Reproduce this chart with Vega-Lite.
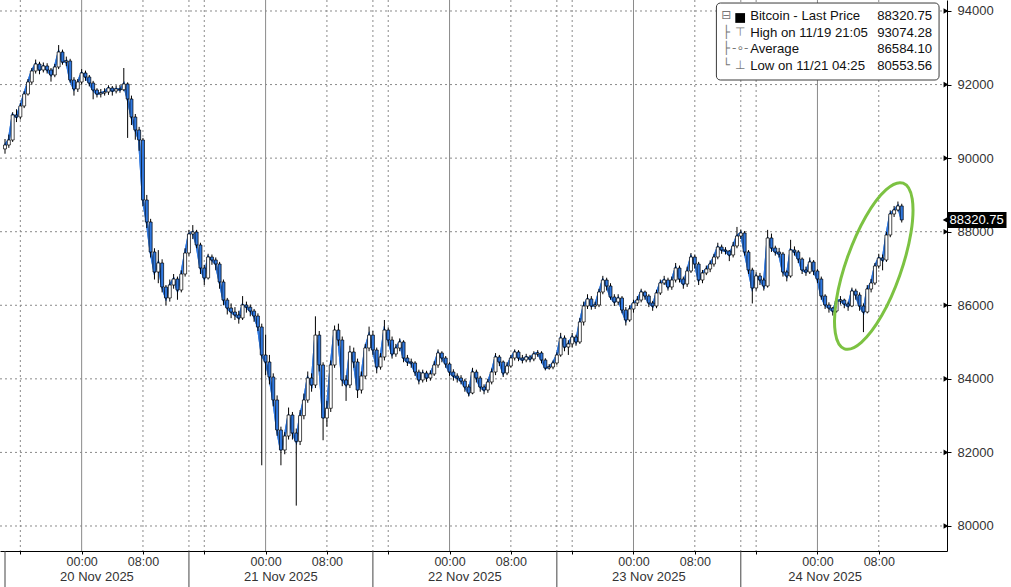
{
"$schema":"https://vega.github.io/schema/vega-lite/v6.json",
"width":947,"height":551,
"autosize":{"type":"none"},
"padding":{"left":0,"top":0,"right":64,"bottom":36},
"background":"#ffffff",
"config":{"font":"Liberation Sans","view":{"stroke":null},"axis":{"labelFont":"Liberation Sans","labelFontSize":13,"labelColor":"#333333","title":null}},
"datasets":{
"vgrid":[{"t":"2025-11-20T00:00Z","k":"d"},{"t":"2025-11-21T00:00Z","k":"d"},{"t":"2025-11-22T00:00Z","k":"d"},{"t":"2025-11-23T00:00Z","k":"d"},{"t":"2025-11-24T00:00Z","k":"d"},
{"t":"2025-11-19T16:00Z","k":"h"},{"t":"2025-11-20T08:00Z","k":"h"},{"t":"2025-11-20T16:00Z","k":"h"},{"t":"2025-11-21T08:00Z","k":"h"},{"t":"2025-11-21T16:00Z","k":"h"},{"t":"2025-11-22T08:00Z","k":"h"},{"t":"2025-11-22T16:00Z","k":"h"},{"t":"2025-11-23T08:00Z","k":"h"},{"t":"2025-11-23T16:00Z","k":"h"},{"t":"2025-11-24T08:00Z","k":"h"},
{"t":"2025-11-20T14:00Z","k":"h"},{"t":"2025-11-21T14:00Z","k":"h"},{"t":"2025-11-22T14:00Z","k":"h"},{"t":"2025-11-23T14:00Z","k":"h"}],
"seps":[{"t":"2025-11-19T14:00Z"},{"t":"2025-11-20T14:00Z"},{"t":"2025-11-21T14:00Z"},{"t":"2025-11-22T14:00Z"},{"t":"2025-11-23T14:00Z"}],
"sessions":[{"t":"2025-11-20T02:00Z","label":"20 Nov 2025"},{"t":"2025-11-21T02:00Z","label":"21 Nov 2025"},{"t":"2025-11-22T02:00Z","label":"22 Nov 2025"},{"t":"2025-11-23T02:00Z","label":"23 Nov 2025"},{"t":"2025-11-24T01:00Z","label":"24 Nov 2025"}],
"levels":[{"v":80000},{"v":82000},{"v":84000},{"v":86000},{"v":88000},{"v":90000},{"v":92000},{"v":94000}],
"ellipse":[
{"i":1,"t":"2025-11-24T11:11Z","p":89319},{"i":2,"t":"2025-11-24T12:22Z","p":88889},{"i":3,"t":"2025-11-24T12:12Z","p":87970},{"i":4,"t":"2025-11-24T10:44Z","p":86812},{"i":5,"t":"2025-11-24T08:23Z","p":85719},{"i":6,"t":"2025-11-24T05:44Z","p":84991},{"i":7,"t":"2025-11-24T03:31Z","p":84817},{"i":8,"t":"2025-11-24T02:20Z","p":85246},{"i":9,"t":"2025-11-24T02:29Z","p":86165},{"i":10,"t":"2025-11-24T03:57Z","p":87323},{"i":11,"t":"2025-11-24T06:19Z","p":88416},{"i":12,"t":"2025-11-24T08:58Z","p":89145}],
"btc":[
{"t":"2025-11-19T14:00Z","o":90250,"h":90520,"l":90120,"c":90357},
{"t":"2025-11-19T14:30Z","o":90357,"h":90640,"l":90280,"c":90493},
{"t":"2025-11-19T15:00Z","o":90493,"h":91250,"l":90440,"c":91173},
{"t":"2025-11-19T15:30Z","o":91173,"h":91330,"l":90980,"c":91118},
{"t":"2025-11-19T16:00Z","o":91118,"h":91500,"l":91050,"c":91417},
{"t":"2025-11-19T16:30Z","o":91417,"h":91820,"l":91360,"c":91744},
{"t":"2025-11-19T17:00Z","o":91744,"h":92150,"l":91700,"c":92070},
{"t":"2025-11-19T17:30Z","o":92070,"h":92450,"l":92000,"c":92369},
{"t":"2025-11-19T18:00Z","o":92369,"h":92680,"l":92300,"c":92559},
{"t":"2025-11-19T18:30Z","o":92559,"h":92620,"l":92280,"c":92396},
{"t":"2025-11-19T19:00Z","o":92396,"h":92600,"l":92330,"c":92505},
{"t":"2025-11-19T19:30Z","o":92505,"h":92580,"l":92300,"c":92396},
{"t":"2025-11-19T20:00Z","o":92396,"h":92450,"l":92080,"c":92260},
{"t":"2025-11-19T20:30Z","o":92260,"h":92560,"l":92200,"c":92478},
{"t":"2025-11-19T21:00Z","o":92478,"h":93074.28,"l":92420,"c":92885},
{"t":"2025-11-19T21:30Z","o":92885,"h":92950,"l":92540,"c":92613},
{"t":"2025-11-19T22:00Z","o":92613,"h":92760,"l":92500,"c":92641},
{"t":"2025-11-19T22:30Z","o":92641,"h":92700,"l":92050,"c":92124},
{"t":"2025-11-19T23:00Z","o":92124,"h":92200,"l":91700,"c":91880},
{"t":"2025-11-19T23:30Z","o":91880,"h":92150,"l":91800,"c":92070},
{"t":"2025-11-20T00:00Z","o":92070,"h":92420,"l":92000,"c":92315},
{"t":"2025-11-20T00:30Z","o":92315,"h":92380,"l":92100,"c":92206},
{"t":"2025-11-20T01:00Z","o":92206,"h":92260,"l":91950,"c":92043},
{"t":"2025-11-20T01:30Z","o":92043,"h":92100,"l":91600,"c":91852},
{"t":"2025-11-20T02:00Z","o":91852,"h":91900,"l":91650,"c":91744},
{"t":"2025-11-20T02:30Z","o":91744,"h":91880,"l":91650,"c":91771},
{"t":"2025-11-20T03:00Z","o":91771,"h":91900,"l":91700,"c":91798},
{"t":"2025-11-20T03:30Z","o":91798,"h":91980,"l":91720,"c":91907},
{"t":"2025-11-20T04:00Z","o":91907,"h":91960,"l":91700,"c":91825},
{"t":"2025-11-20T04:30Z","o":91825,"h":91980,"l":91760,"c":91880},
{"t":"2025-11-20T05:00Z","o":91880,"h":91990,"l":91780,"c":91860},
{"t":"2025-11-20T05:30Z","o":91860,"h":92450,"l":91820,"c":92016},
{"t":"2025-11-20T06:00Z","o":92016,"h":92060,"l":90550,"c":91608},
{"t":"2025-11-20T06:30Z","o":91608,"h":91700,"l":90900,"c":91118},
{"t":"2025-11-20T07:00Z","o":91118,"h":91200,"l":90500,"c":90765},
{"t":"2025-11-20T07:30Z","o":90765,"h":90850,"l":90200,"c":90493},
{"t":"2025-11-20T08:00Z","o":90493,"h":90550,"l":88700,"c":88862},
{"t":"2025-11-20T08:30Z","o":88862,"h":89000,"l":88100,"c":88264},
{"t":"2025-11-20T09:00Z","o":88264,"h":88350,"l":87300,"c":87448},
{"t":"2025-11-20T09:30Z","o":87448,"h":87550,"l":86700,"c":86905},
{"t":"2025-11-20T10:00Z","o":86905,"h":87500,"l":86600,"c":87150},
{"t":"2025-11-20T10:30Z","o":87150,"h":87250,"l":86350,"c":86497},
{"t":"2025-11-20T11:00Z","o":86497,"h":86550,"l":86000,"c":86198},
{"t":"2025-11-20T11:30Z","o":86198,"h":86700,"l":86100,"c":86551},
{"t":"2025-11-20T12:00Z","o":86551,"h":86850,"l":86450,"c":86714},
{"t":"2025-11-20T12:30Z","o":86714,"h":86780,"l":86150,"c":86415},
{"t":"2025-11-20T13:00Z","o":86415,"h":86950,"l":86350,"c":86850},
{"t":"2025-11-20T13:30Z","o":86850,"h":87550,"l":86780,"c":87421},
{"t":"2025-11-20T14:00Z","o":87421,"h":88050,"l":87350,"c":87938},
{"t":"2025-11-20T14:30Z","o":87938,"h":88180,"l":87800,"c":87992},
{"t":"2025-11-20T15:00Z","o":87992,"h":88050,"l":87550,"c":87639},
{"t":"2025-11-20T15:30Z","o":87639,"h":87700,"l":86850,"c":87013},
{"t":"2025-11-20T16:00Z","o":87013,"h":87100,"l":86550,"c":86742},
{"t":"2025-11-20T16:30Z","o":86742,"h":87400,"l":86700,"c":87312},
{"t":"2025-11-20T17:00Z","o":87312,"h":87380,"l":87100,"c":87231},
{"t":"2025-11-20T17:30Z","o":87231,"h":87300,"l":86950,"c":87122},
{"t":"2025-11-20T18:00Z","o":87122,"h":87180,"l":86450,"c":86633},
{"t":"2025-11-20T18:30Z","o":86633,"h":86700,"l":86000,"c":86143},
{"t":"2025-11-20T19:00Z","o":86143,"h":86200,"l":85750,"c":85926},
{"t":"2025-11-20T19:30Z","o":85926,"h":86050,"l":85650,"c":85817},
{"t":"2025-11-20T20:00Z","o":85817,"h":85950,"l":85600,"c":85736},
{"t":"2025-11-20T20:30Z","o":85736,"h":85850,"l":85500,"c":85654},
{"t":"2025-11-20T21:00Z","o":85654,"h":86250,"l":85600,"c":86008},
{"t":"2025-11-20T21:30Z","o":86008,"h":86100,"l":85800,"c":85950},
{"t":"2025-11-20T22:00Z","o":85950,"h":86020,"l":85700,"c":85844},
{"t":"2025-11-20T22:30Z","o":85844,"h":85900,"l":85550,"c":85708},
{"t":"2025-11-20T23:00Z","o":85708,"h":85780,"l":85300,"c":85410},
{"t":"2025-11-20T23:30Z","o":85410,"h":85500,"l":81650,"c":84648},
{"t":"2025-11-21T00:00Z","o":84648,"h":85200,"l":84100,"c":84458},
{"t":"2025-11-21T00:30Z","o":84458,"h":84650,"l":83850,"c":84050},
{"t":"2025-11-21T01:00Z","o":84050,"h":84150,"l":83250,"c":83425},
{"t":"2025-11-21T01:30Z","o":83425,"h":83550,"l":82450,"c":82610},
{"t":"2025-11-21T02:00Z","o":82610,"h":82700,"l":81650,"c":82066},
{"t":"2025-11-21T02:30Z","o":82066,"h":82550,"l":81950,"c":82446},
{"t":"2025-11-21T03:00Z","o":82446,"h":83220,"l":82350,"c":83017},
{"t":"2025-11-21T03:30Z","o":83017,"h":83100,"l":82350,"c":82528},
{"t":"2025-11-21T04:00Z","o":82528,"h":82650,"l":80553.56,"c":82300},
{"t":"2025-11-21T04:30Z","o":82300,"h":83150,"l":82200,"c":83000},
{"t":"2025-11-21T05:00Z","o":83000,"h":83600,"l":82900,"c":83425},
{"t":"2025-11-21T05:30Z","o":83425,"h":84200,"l":83350,"c":84023},
{"t":"2025-11-21T06:00Z","o":84023,"h":84150,"l":83650,"c":83833},
{"t":"2025-11-21T06:30Z","o":83833,"h":85700,"l":83750,"c":85190},
{"t":"2025-11-21T07:00Z","o":85190,"h":85300,"l":84200,"c":84377},
{"t":"2025-11-21T07:30Z","o":84377,"h":84450,"l":82330,"c":82936},
{"t":"2025-11-21T08:00Z","o":82936,"h":83400,"l":82700,"c":83200},
{"t":"2025-11-21T08:30Z","o":83200,"h":84500,"l":83100,"c":84377},
{"t":"2025-11-21T09:00Z","o":84377,"h":85450,"l":84300,"c":85327},
{"t":"2025-11-21T09:30Z","o":85327,"h":85500,"l":84900,"c":85056},
{"t":"2025-11-21T10:00Z","o":85056,"h":85150,"l":83800,"c":83969},
{"t":"2025-11-21T10:30Z","o":83969,"h":84100,"l":83400,"c":83833},
{"t":"2025-11-21T11:00Z","o":83833,"h":84900,"l":83750,"c":84730},
{"t":"2025-11-21T11:30Z","o":84730,"h":84850,"l":84300,"c":84458},
{"t":"2025-11-21T12:00Z","o":84458,"h":84550,"l":83480,"c":83697},
{"t":"2025-11-21T12:30Z","o":83697,"h":84200,"l":83600,"c":84077},
{"t":"2025-11-21T13:00Z","o":84077,"h":84950,"l":84000,"c":84839},
{"t":"2025-11-21T13:30Z","o":84839,"h":85420,"l":84750,"c":85190},
{"t":"2025-11-21T14:00Z","o":85190,"h":85300,"l":84650,"c":84784},
{"t":"2025-11-21T14:30Z","o":84784,"h":84850,"l":84150,"c":84322},
{"t":"2025-11-21T15:00Z","o":84322,"h":84700,"l":84250,"c":84594},
{"t":"2025-11-21T15:30Z","o":84594,"h":85600,"l":84500,"c":85327},
{"t":"2025-11-21T16:00Z","o":85327,"h":85400,"l":84900,"c":85056},
{"t":"2025-11-21T16:30Z","o":85056,"h":85150,"l":84550,"c":84676},
{"t":"2025-11-21T17:00Z","o":84676,"h":84950,"l":84600,"c":84839},
{"t":"2025-11-21T17:30Z","o":84839,"h":85100,"l":84750,"c":85002},
{"t":"2025-11-21T18:00Z","o":85002,"h":85050,"l":84450,"c":84567},
{"t":"2025-11-21T18:30Z","o":84567,"h":84650,"l":84350,"c":84458},
{"t":"2025-11-21T19:00Z","o":84458,"h":84550,"l":84300,"c":84431},
{"t":"2025-11-21T19:30Z","o":84431,"h":84480,"l":84080,"c":84186},
{"t":"2025-11-21T20:00Z","o":84186,"h":84250,"l":83850,"c":83969},
{"t":"2025-11-21T20:30Z","o":83969,"h":84250,"l":83900,"c":84159},
{"t":"2025-11-21T21:00Z","o":84159,"h":84220,"l":83920,"c":84023},
{"t":"2025-11-21T21:30Z","o":84023,"h":84230,"l":83950,"c":84132},
{"t":"2025-11-21T22:00Z","o":84132,"h":84480,"l":84080,"c":84377},
{"t":"2025-11-21T22:30Z","o":84377,"h":84800,"l":84300,"c":84703},
{"t":"2025-11-21T23:00Z","o":84703,"h":84750,"l":84450,"c":84567},
{"t":"2025-11-21T23:30Z","o":84567,"h":84620,"l":84300,"c":84404},
{"t":"2025-11-22T00:00Z","o":84404,"h":84450,"l":84080,"c":84186},
{"t":"2025-11-22T00:30Z","o":84186,"h":84260,"l":83950,"c":84077},
{"t":"2025-11-22T01:00Z","o":84077,"h":84150,"l":83900,"c":84023},
{"t":"2025-11-22T01:30Z","o":84023,"h":84100,"l":83850,"c":83941},
{"t":"2025-11-22T02:00Z","o":83941,"h":84000,"l":83650,"c":83778},
{"t":"2025-11-22T02:30Z","o":83778,"h":83850,"l":83520,"c":83615},
{"t":"2025-11-22T03:00Z","o":83615,"h":84300,"l":83580,"c":84186},
{"t":"2025-11-22T03:30Z","o":84186,"h":84250,"l":83900,"c":84023},
{"t":"2025-11-22T04:00Z","o":84023,"h":84080,"l":83650,"c":83778},
{"t":"2025-11-22T04:30Z","o":83778,"h":83850,"l":83580,"c":83697},
{"t":"2025-11-22T05:00Z","o":83697,"h":84000,"l":83620,"c":83914},
{"t":"2025-11-22T05:30Z","o":83914,"h":84280,"l":83850,"c":84186},
{"t":"2025-11-22T06:00Z","o":84186,"h":84700,"l":84100,"c":84594},
{"t":"2025-11-22T06:30Z","o":84594,"h":84650,"l":84350,"c":84458},
{"t":"2025-11-22T07:00Z","o":84458,"h":84500,"l":84050,"c":84159},
{"t":"2025-11-22T07:30Z","o":84159,"h":84450,"l":84100,"c":84349},
{"t":"2025-11-22T08:00Z","o":84349,"h":84650,"l":84300,"c":84567},
{"t":"2025-11-22T08:30Z","o":84567,"h":84800,"l":84500,"c":84730},
{"t":"2025-11-22T09:00Z","o":84730,"h":84780,"l":84480,"c":84567},
{"t":"2025-11-22T09:30Z","o":84567,"h":84650,"l":84420,"c":84513},
{"t":"2025-11-22T10:00Z","o":84513,"h":84680,"l":84450,"c":84594},
{"t":"2025-11-22T10:30Z","o":84594,"h":84650,"l":84450,"c":84540},
{"t":"2025-11-22T11:00Z","o":84540,"h":84750,"l":84480,"c":84676},
{"t":"2025-11-22T11:30Z","o":84676,"h":84780,"l":84600,"c":84703},
{"t":"2025-11-22T12:00Z","o":84703,"h":84750,"l":84420,"c":84513},
{"t":"2025-11-22T12:30Z","o":84513,"h":84560,"l":84230,"c":84295},
{"t":"2025-11-22T13:00Z","o":84295,"h":84400,"l":84250,"c":84322},
{"t":"2025-11-22T13:30Z","o":84322,"h":84500,"l":84260,"c":84431},
{"t":"2025-11-22T14:00Z","o":84431,"h":84720,"l":84380,"c":84648},
{"t":"2025-11-22T14:30Z","o":84648,"h":85250,"l":84600,"c":85109},
{"t":"2025-11-22T15:00Z","o":85109,"h":85180,"l":84750,"c":84865},
{"t":"2025-11-22T15:30Z","o":84865,"h":85050,"l":84650,"c":84950},
{"t":"2025-11-22T16:00Z","o":84950,"h":85250,"l":84850,"c":85137},
{"t":"2025-11-22T16:30Z","o":85137,"h":85200,"l":84900,"c":85002},
{"t":"2025-11-22T17:00Z","o":85002,"h":85650,"l":84950,"c":85545},
{"t":"2025-11-22T17:30Z","o":85545,"h":86100,"l":85450,"c":85980},
{"t":"2025-11-22T18:00Z","o":85980,"h":86300,"l":85900,"c":86171},
{"t":"2025-11-22T18:30Z","o":86171,"h":86250,"l":85880,"c":85980},
{"t":"2025-11-22T19:00Z","o":85980,"h":86100,"l":85900,"c":86008},
{"t":"2025-11-22T19:30Z","o":86008,"h":86450,"l":85950,"c":86361},
{"t":"2025-11-22T20:00Z","o":86361,"h":86800,"l":86300,"c":86687},
{"t":"2025-11-22T20:30Z","o":86687,"h":86750,"l":86400,"c":86524},
{"t":"2025-11-22T21:00Z","o":86524,"h":86600,"l":86150,"c":86225},
{"t":"2025-11-22T21:30Z","o":86225,"h":86300,"l":85980,"c":86089},
{"t":"2025-11-22T22:00Z","o":86089,"h":86300,"l":86000,"c":86198},
{"t":"2025-11-22T22:30Z","o":86198,"h":86250,"l":85780,"c":85871},
{"t":"2025-11-22T23:00Z","o":85871,"h":85950,"l":85450,"c":85600},
{"t":"2025-11-22T23:30Z","o":85600,"h":86000,"l":85550,"c":85899},
{"t":"2025-11-23T00:00Z","o":85899,"h":86150,"l":85800,"c":86062},
{"t":"2025-11-23T00:30Z","o":86062,"h":86250,"l":85980,"c":86143},
{"t":"2025-11-23T01:00Z","o":86143,"h":86450,"l":86080,"c":86361},
{"t":"2025-11-23T01:30Z","o":86361,"h":86400,"l":86150,"c":86252},
{"t":"2025-11-23T02:00Z","o":86252,"h":86300,"l":85950,"c":86062},
{"t":"2025-11-23T02:30Z","o":86062,"h":86120,"l":85850,"c":85980},
{"t":"2025-11-23T03:00Z","o":85980,"h":86420,"l":85920,"c":86334},
{"t":"2025-11-23T03:30Z","o":86334,"h":86700,"l":86280,"c":86606},
{"t":"2025-11-23T04:00Z","o":86606,"h":86800,"l":86550,"c":86687},
{"t":"2025-11-23T04:30Z","o":86687,"h":86750,"l":86400,"c":86497},
{"t":"2025-11-23T05:00Z","o":86497,"h":86780,"l":86420,"c":86687},
{"t":"2025-11-23T05:30Z","o":86687,"h":87150,"l":86620,"c":87013},
{"t":"2025-11-23T06:00Z","o":87013,"h":87080,"l":86620,"c":86714},
{"t":"2025-11-23T06:30Z","o":86714,"h":86780,"l":86450,"c":86578},
{"t":"2025-11-23T07:00Z","o":86578,"h":87050,"l":86500,"c":86932},
{"t":"2025-11-23T07:30Z","o":86932,"h":87420,"l":86880,"c":87312},
{"t":"2025-11-23T08:00Z","o":87312,"h":87380,"l":87000,"c":87122},
{"t":"2025-11-23T08:30Z","o":87122,"h":87180,"l":86550,"c":86687},
{"t":"2025-11-23T09:00Z","o":86687,"h":86960,"l":86600,"c":86877},
{"t":"2025-11-23T09:30Z","o":86877,"h":87080,"l":86820,"c":86986},
{"t":"2025-11-23T10:00Z","o":86986,"h":87220,"l":86900,"c":87122},
{"t":"2025-11-23T10:30Z","o":87122,"h":87400,"l":87050,"c":87312},
{"t":"2025-11-23T11:00Z","o":87312,"h":87700,"l":87250,"c":87584},
{"t":"2025-11-23T11:30Z","o":87584,"h":87650,"l":87400,"c":87502},
{"t":"2025-11-23T12:00Z","o":87502,"h":87580,"l":87380,"c":87475},
{"t":"2025-11-23T12:30Z","o":87475,"h":87500,"l":87200,"c":87367},
{"t":"2025-11-23T13:00Z","o":87367,"h":87720,"l":87300,"c":87612},
{"t":"2025-11-23T13:30Z","o":87612,"h":88130,"l":87550,"c":87883},
{"t":"2025-11-23T14:00Z","o":87883,"h":88060,"l":87800,"c":87965},
{"t":"2025-11-23T14:30Z","o":87965,"h":88020,"l":87350,"c":87448},
{"t":"2025-11-23T15:00Z","o":87448,"h":87500,"l":86850,"c":86959},
{"t":"2025-11-23T15:30Z","o":86959,"h":87020,"l":86050,"c":86470},
{"t":"2025-11-23T16:00Z","o":86470,"h":86900,"l":86400,"c":86796},
{"t":"2025-11-23T16:30Z","o":86796,"h":86880,"l":86550,"c":86687},
{"t":"2025-11-23T17:00Z","o":86687,"h":86750,"l":86400,"c":86524},
{"t":"2025-11-23T17:30Z","o":86524,"h":88050,"l":86480,"c":87829},
{"t":"2025-11-23T18:00Z","o":87829,"h":87950,"l":87450,"c":87557},
{"t":"2025-11-23T18:30Z","o":87557,"h":87620,"l":87350,"c":87448},
{"t":"2025-11-23T19:00Z","o":87448,"h":87560,"l":87300,"c":87394},
{"t":"2025-11-23T19:30Z","o":87394,"h":87450,"l":86780,"c":86905},
{"t":"2025-11-23T20:00Z","o":86905,"h":86950,"l":86650,"c":86796},
{"t":"2025-11-23T20:30Z","o":86796,"h":87780,"l":86750,"c":87502},
{"t":"2025-11-23T21:00Z","o":87502,"h":87600,"l":87350,"c":87450},
{"t":"2025-11-23T21:30Z","o":87450,"h":87500,"l":87150,"c":87258},
{"t":"2025-11-23T22:00Z","o":87258,"h":87300,"l":86850,"c":86959},
{"t":"2025-11-23T22:30Z","o":86959,"h":87050,"l":86800,"c":86905},
{"t":"2025-11-23T23:00Z","o":86905,"h":87300,"l":86850,"c":87177},
{"t":"2025-11-23T23:30Z","o":87177,"h":87230,"l":86820,"c":86932},
{"t":"2025-11-24T00:00Z","o":86932,"h":86980,"l":86600,"c":86714},
{"t":"2025-11-24T00:30Z","o":86714,"h":86780,"l":86150,"c":86252},
{"t":"2025-11-24T01:00Z","o":86252,"h":86300,"l":85900,"c":86008},
{"t":"2025-11-24T01:30Z","o":86008,"h":86080,"l":85800,"c":85926},
{"t":"2025-11-24T02:00Z","o":85926,"h":85950,"l":85720,"c":85844},
{"t":"2025-11-24T02:30Z","o":85844,"h":86200,"l":85800,"c":86117},
{"t":"2025-11-24T03:00Z","o":86117,"h":86250,"l":86020,"c":86143},
{"t":"2025-11-24T03:30Z","o":86143,"h":86180,"l":85920,"c":86035},
{"t":"2025-11-24T04:00Z","o":86035,"h":86100,"l":85850,"c":85980},
{"t":"2025-11-24T04:30Z","o":85980,"h":86480,"l":85950,"c":86388},
{"t":"2025-11-24T05:00Z","o":86388,"h":86450,"l":86150,"c":86279},
{"t":"2025-11-24T05:30Z","o":86279,"h":86350,"l":85850,"c":85980},
{"t":"2025-11-24T06:00Z","o":85980,"h":86050,"l":85270,"c":85817},
{"t":"2025-11-24T06:30Z","o":85817,"h":86550,"l":85780,"c":86442},
{"t":"2025-11-24T07:00Z","o":86442,"h":86720,"l":86350,"c":86606},
{"t":"2025-11-24T07:30Z","o":86606,"h":87150,"l":86550,"c":87068},
{"t":"2025-11-24T08:00Z","o":87068,"h":87400,"l":87000,"c":87285},
{"t":"2025-11-24T08:30Z","o":87285,"h":87380,"l":86950,"c":87231},
{"t":"2025-11-24T09:00Z","o":87231,"h":88000,"l":87180,"c":87911},
{"t":"2025-11-24T09:30Z","o":87911,"h":88580,"l":87850,"c":88482},
{"t":"2025-11-24T10:00Z","o":88482,"h":88700,"l":88400,"c":88591},
{"t":"2025-11-24T10:30Z","o":88591,"h":88820,"l":88550,"c":88700},
{"t":"2025-11-24T11:00Z","o":88700,"h":88760,"l":88250,"c":88320.75}
]},
"layer":[
{"data":{"name":"btc"},
 "mark":{"type":"line","color":"#2f78e0","strokeWidth":2.2},
 "encoding":{
  "x":{"field":"t","type":"temporal",
   "scale":{"type":"utc","domain":[{"year":2025,"month":11,"date":19,"hours":14,"utc":true},{"year":2025,"month":11,"date":24,"hours":16,"minutes":15,"utc":true}]},
   "axis":{"values":[
     {"year":2025,"month":11,"date":19,"hours":16,"utc":true},{"year":2025,"month":11,"date":19,"hours":20,"utc":true},
     {"year":2025,"month":11,"date":20,"hours":0,"utc":true},{"year":2025,"month":11,"date":20,"hours":4,"utc":true},{"year":2025,"month":11,"date":20,"hours":8,"utc":true},{"year":2025,"month":11,"date":20,"hours":12,"utc":true},{"year":2025,"month":11,"date":20,"hours":16,"utc":true},{"year":2025,"month":11,"date":20,"hours":20,"utc":true},
     {"year":2025,"month":11,"date":21,"hours":0,"utc":true},{"year":2025,"month":11,"date":21,"hours":4,"utc":true},{"year":2025,"month":11,"date":21,"hours":8,"utc":true},{"year":2025,"month":11,"date":21,"hours":12,"utc":true},{"year":2025,"month":11,"date":21,"hours":16,"utc":true},{"year":2025,"month":11,"date":21,"hours":20,"utc":true},
     {"year":2025,"month":11,"date":22,"hours":0,"utc":true},{"year":2025,"month":11,"date":22,"hours":4,"utc":true},{"year":2025,"month":11,"date":22,"hours":8,"utc":true},{"year":2025,"month":11,"date":22,"hours":12,"utc":true},{"year":2025,"month":11,"date":22,"hours":16,"utc":true},{"year":2025,"month":11,"date":22,"hours":20,"utc":true},
     {"year":2025,"month":11,"date":23,"hours":0,"utc":true},{"year":2025,"month":11,"date":23,"hours":4,"utc":true},{"year":2025,"month":11,"date":23,"hours":8,"utc":true},{"year":2025,"month":11,"date":23,"hours":12,"utc":true},{"year":2025,"month":11,"date":23,"hours":16,"utc":true},{"year":2025,"month":11,"date":23,"hours":20,"utc":true},
     {"year":2025,"month":11,"date":24,"hours":0,"utc":true},{"year":2025,"month":11,"date":24,"hours":4,"utc":true},{"year":2025,"month":11,"date":24,"hours":8,"utc":true},{"year":2025,"month":11,"date":24,"hours":12,"utc":true}],
     "labelExpr":"utchours(datum.value)==0 ? '00:00' : (utchours(datum.value)==8 ? '08:00' : '')",
     "labelOverlap":false,"labelFlush":false,"labelBound":false,"grid":false,
     "tickSize":3,"tickColor":"#000000","domainColor":"#000000","labelPadding":1,"labelFontSize":12.5,"labelColor":"#333333"}},
  "y":{"field":"c","type":"quantitative",
   "scale":{"domain":[79320,94299],"nice":false,"zero":false},
   "axis":{"orient":"right","values":[80000,81000,82000,83000,84000,85000,86000,87000,88000,89000,90000,91000,92000,93000,94000],
     "format":"d","labelExpr":"datum.value % 2000 == 0 ? datum.label : ''","grid":false,
     "tickSize":4,"tickColor":"#000000","domainColor":"#000000","labelPadding":6,"labelFontSize":13,"labelColor":"#333333","labelOverlap":false,"labelFlush":false}}}},
{"data":{"name":"levels"},
 "mark":{"type":"rule","stroke":"#8a8a8a","strokeDash":[2,3],"strokeWidth":1},
 "encoding":{"y":{"field":"v","type":"quantitative"}}},
{"data":{"name":"vgrid"},
 "mark":{"type":"rule","stroke":"#8a8a8a","strokeWidth":1},
 "encoding":{
  "x":{"field":"t","type":"temporal"},
  "strokeDash":{"field":"k","type":"nominal","scale":{"domain":["d","h"],"range":[[1,0],[2,3]]},"legend":null}}},
{"data":{"name":"seps"},
 "mark":{"type":"rule","stroke":"#444444","strokeWidth":1},
 "encoding":{
  "x":{"field":"t","type":"temporal"},
  "y":{"datum":79320,"type":"quantitative"},
  "y2":{"datum":78341}}},
{"data":{"name":"sessions"},
 "mark":{"type":"text","align":"center","baseline":"middle","fontSize":13,"color":"#333333","font":"Liberation Sans"},
 "encoding":{
  "x":{"field":"t","type":"temporal"},
  "y":{"datum":78612,"type":"quantitative"},
  "text":{"field":"label"}}},
{"data":{"name":"btc"},
 "mark":{"type":"line","color":"#2f78e0","strokeWidth":2.2},
 "encoding":{
  "x":{"field":"t","type":"temporal"},
  "y":{"field":"c","type":"quantitative"}}},
{"data":{"name":"btc"},
 "mark":{"type":"rule","color":"#000000","strokeWidth":1},
 "encoding":{
  "x":{"field":"t","type":"temporal"},
  "y":{"field":"l","type":"quantitative"},
  "y2":{"field":"h"}}},
{"data":{"name":"btc"},
 "mark":{"type":"bar","size":3,"stroke":"#000000","strokeWidth":0.7},
 "encoding":{
  "x":{"field":"t","type":"temporal"},
  "y":{"field":"o","type":"quantitative"},
  "y2":{"field":"c"},
  "fill":{"condition":{"test":"datum.c >= datum.o","value":"#ffffff"},"value":"#2f78e0"}}},
{"data":{"name":"ellipse"},
 "mark":{"type":"line","interpolate":"cardinal-closed","color":"#7cc242","strokeWidth":3},
 "encoding":{
  "x":{"field":"t","type":"temporal"},
  "y":{"field":"p","type":"quantitative"},
  "order":{"field":"i","type":"quantitative"}}},
{"data":{"values":[{}]},
 "mark":{"type":"rect","fill":"#ffffff","stroke":"#3a3a3a","strokeWidth":1,"cornerRadius":4},
 "encoding":{
  "x":{"datum":{"year":2025,"month":11,"date":23,"hours":10,"minutes":49,"utc":true},"type":"temporal"},
  "x2":{"datum":{"year":2025,"month":11,"date":24,"hours":15,"minutes":52,"utc":true}},
  "y":{"datum":94217,"type":"quantitative"},
  "y2":{"datum":92124}}},
{"data":{"values":[{}]},
 "mark":{"type":"text","align":"left","baseline":"top","fontSize":13.2,"lineHeight":16.5,"color":"#111111","font":"Liberation Sans"},
 "encoding":{
  "x":{"datum":{"year":2025,"month":11,"date":23,"hours":15,"minutes":13,"utc":true},"type":"temporal"},
  "y":{"datum":94027,"type":"quantitative"},
  "text":{"value":["Bitcoin - Last Price","High on 11/19 21:05","Average","Low on 11/21 04:25"]}}},
{"data":{"values":[{}]},
 "mark":{"type":"text","align":"right","baseline":"top","fontSize":13.2,"lineHeight":16.5,"color":"#111111","font":"Liberation Sans"},
 "encoding":{
  "x":{"datum":{"year":2025,"month":11,"date":24,"hours":14,"minutes":58,"utc":true},"type":"temporal"},
  "y":{"datum":94027,"type":"quantitative"},
  "text":{"value":["88320.75","93074.28","86584.10","80553.56"]}}},
{"data":{"values":[{}]},
 "mark":{"type":"text","align":"center","baseline":"top","fontSize":12,"lineHeight":16.5,"color":"#777777","font":"DejaVu Sans"},
 "encoding":{
  "x":{"datum":{"year":2025,"month":11,"date":23,"hours":12,"minutes":7,"utc":true},"type":"temporal"},
  "y":{"datum":94027,"type":"quantitative"},
  "text":{"value":["⊟","├","├","└"]}}},
{"data":{"values":[{}]},
 "mark":{"type":"text","align":"center","baseline":"top","fontSize":12,"lineHeight":16.5,"color":"#777777","font":"DejaVu Sans"},
 "encoding":{
  "x":{"datum":{"year":2025,"month":11,"date":23,"hours":13,"minutes":55,"utc":true},"type":"temporal"},
  "y":{"datum":94027,"type":"quantitative"},
  "text":{"value":[" ","⊤","-∘-","⊥"]}}},
{"data":{"values":[{}]},
 "mark":{"type":"point","shape":"square","filled":true,"size":95,"color":"#000000","opacity":1},
 "encoding":{
  "x":{"datum":{"year":2025,"month":11,"date":23,"hours":13,"minutes":55,"utc":true},"type":"temporal"},
  "y":{"datum":93810,"type":"quantitative"}}},
{"data":{"name":"levels"},
 "mark":{"type":"point","shape":"triangle-right","filled":true,"size":32,"color":"#000000","opacity":1,"xOffset":4},
 "encoding":{
  "x":{"datum":{"year":2025,"month":11,"date":24,"hours":16,"minutes":15,"utc":true},"type":"temporal"},
  "y":{"field":"v","type":"quantitative"}}},
{"data":{"values":[{}]},
 "mark":{"type":"rect","fill":"#000000"},
 "encoding":{
  "x":{"datum":{"year":2025,"month":11,"date":24,"hours":17,"minutes":2,"utc":true},"type":"temporal"},
  "x2":{"datum":{"year":2025,"month":11,"date":25,"hours":0,"minutes":40,"utc":true}},
  "y":{"datum":88536,"type":"quantitative"},
  "y2":{"datum":88101}}},
{"data":{"values":[{}]},
 "mark":{"type":"point","shape":"triangle-left","filled":true,"size":60,"color":"#000000","opacity":1},
 "encoding":{
  "x":{"datum":{"year":2025,"month":11,"date":24,"hours":16,"minutes":47,"utc":true},"type":"temporal"},
  "y":{"datum":88320.75,"type":"quantitative"}}},
{"data":{"values":[{}]},
 "mark":{"type":"text","align":"center","baseline":"middle","fontSize":13,"color":"#ffffff","font":"Liberation Sans"},
 "encoding":{
  "x":{"datum":{"year":2025,"month":11,"date":24,"hours":20,"minutes":46,"utc":true},"type":"temporal"},
  "y":{"datum":88320.75,"type":"quantitative"},
  "text":{"value":"88320.75"}}}
]
}
